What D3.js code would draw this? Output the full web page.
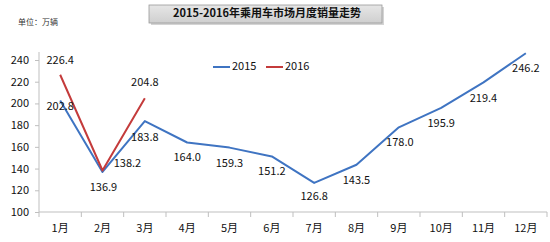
<!DOCTYPE html>
<html><head><meta charset="utf-8">
<script src="https://cdn.jsdelivr.net/npm/d3@7"></script>
<style>body{margin:0;background:#fff}svg{display:block}text{font-family:"Noto Sans CJK SC","Noto Sans",sans-serif}</style>
</head><body><svg id="c" width="550" height="242"></svg>
<script>
const months = ["1月","2月","3月","4月","5月","6月","7月","8月","9月","10月","11月","12月"];
const sales2015 = [202.8,136.9,183.8,164.0,159.3,151.2,126.8,143.5,178.0,195.9,219.4,246.2];
const sales2016 = [226.4,138.2,204.8];
const yTicks = [100,120,140,160,180,200,220,240];
const seriesNames = ["2015","2016"];
const title = "2015-2016年乘用车市场月度销量走势";
const unitLabel = "单位：万辆";

const colors = {"2015":"#3f74c2","2016":"#c43b3b"};
const svg = d3.select("#c");
const x0 = 39, x1 = 547, yTop = 60, yBot = 212;
const x = d3.scaleBand().domain(months).range([x0,x1]);
const y = d3.scaleLinear().domain([100,240]).range([yBot,yTop]);
const cx = m => x(m) + x.bandwidth()/2;

// title box
const defs = svg.append("defs");
const g = defs.append("linearGradient").attr("id","tg").attr("x1",0).attr("y1",0).attr("x2",0).attr("y2",1);
g.append("stop").attr("offset","0").attr("stop-color","#e6e6e6");
g.append("stop").attr("offset","1").attr("stop-color","#cfcfcf");
svg.append("rect").attr("x",151).attr("y",7).attr("width",233).attr("height",18).attr("fill","#b8b8b8").attr("opacity",0.6);
svg.append("rect").attr("x",149).attr("y",5).attr("width",233).attr("height",18).attr("fill","url(#tg)").attr("stroke","#9a9a9a").attr("stroke-width",0.8);
svg.append("text").attr("x",267).attr("y",14.5).attr("text-anchor","middle").attr("dominant-baseline","middle")
  .attr("font-size",11).attr("font-weight","bold").attr("fill","#111").text(title);
svg.append("text").attr("x",18).attr("y",22.5).attr("dominant-baseline","middle").attr("font-size",8).attr("fill","#333").text(unitLabel);

// y axis
const ya = svg.append("g").attr("transform",`translate(${x0},0)`).call(d3.axisLeft(y).tickValues(yTicks).tickSize(4).tickPadding(6).tickFormat(d3.format("d")));
ya.select(".domain").attr("stroke","#bfbfbf").attr("d",`M-4,${yTop-6}H0V${yBot}`);
ya.selectAll(".domain").attr("d",`M0,${yTop-8}V${yBot}`);
ya.selectAll(".tick line").attr("stroke","#bfbfbf");
ya.selectAll(".tick text").attr("font-size",11).attr("fill","#111").attr("font-family","\"Noto Sans\",sans-serif");

// x axis
const xa = svg.append("g").attr("transform",`translate(0,${yBot})`).call(d3.axisBottom(x).tickSize(0).tickPadding(12));
xa.select(".domain").attr("stroke","#bfbfbf").attr("d",`M${x0},0H${x1}`);
xa.selectAll(".tick text").attr("font-size",11).attr("fill","#111");
svg.append("g").selectAll("line").data(d3.range(months.length+1)).join("line")
  .attr("x1",i=>x0+i*x.bandwidth()).attr("x2",i=>x0+i*x.bandwidth()).attr("y1",yBot).attr("y2",yBot+5).attr("stroke","#bfbfbf");

// lines
const line = d3.line().x((d,i)=>cx(months[i])).y(d=>y(d));
svg.append("path").datum(sales2015).attr("d",line).attr("fill","none").attr("stroke",colors["2015"]).attr("stroke-width",2).attr("stroke-linejoin","round");
svg.append("path").datum(sales2016).attr("d",line).attr("fill","none").attr("stroke",colors["2016"]).attr("stroke-width",2).attr("stroke-linejoin","round");

// data labels
const off15 = [[0,7],[1,16],[0,17],[0,16],[0,16],[0,16],[0,14],[0,16],[1,16],[0,16],[0,16.5],[0,16]];
const off16 = [[0,-14],[25,-6.5],[0,-15]];
const lbl = (arr,off) => svg.append("g").selectAll("text").data(arr).join("text")
  .attr("x",(d,i)=>cx(months[i])+off[i][0]).attr("y",(d,i)=>y(d)+off[i][1])
  .attr("text-anchor","middle").attr("dominant-baseline","middle").attr("font-size",11).attr("fill","#111")
  .attr("font-family","\"Noto Sans\",sans-serif").text(d=>d.toFixed(1));
lbl(sales2015,off15);
lbl(sales2016,off16);

// legend
const lg = svg.append("g");
seriesNames.forEach((s,i)=>{
  const lx = 213 + i*53;
  lg.append("line").attr("x1",lx).attr("x2",lx+17).attr("y1",67).attr("y2",67).attr("stroke",colors[s]).attr("stroke-width",2);
  lg.append("text").attr("x",lx+19).attr("y",67).attr("dominant-baseline","middle").attr("font-size",11).attr("fill","#111")
    .attr("font-family","\"Noto Sans\",sans-serif").text(s);
});
</script></body></html>
